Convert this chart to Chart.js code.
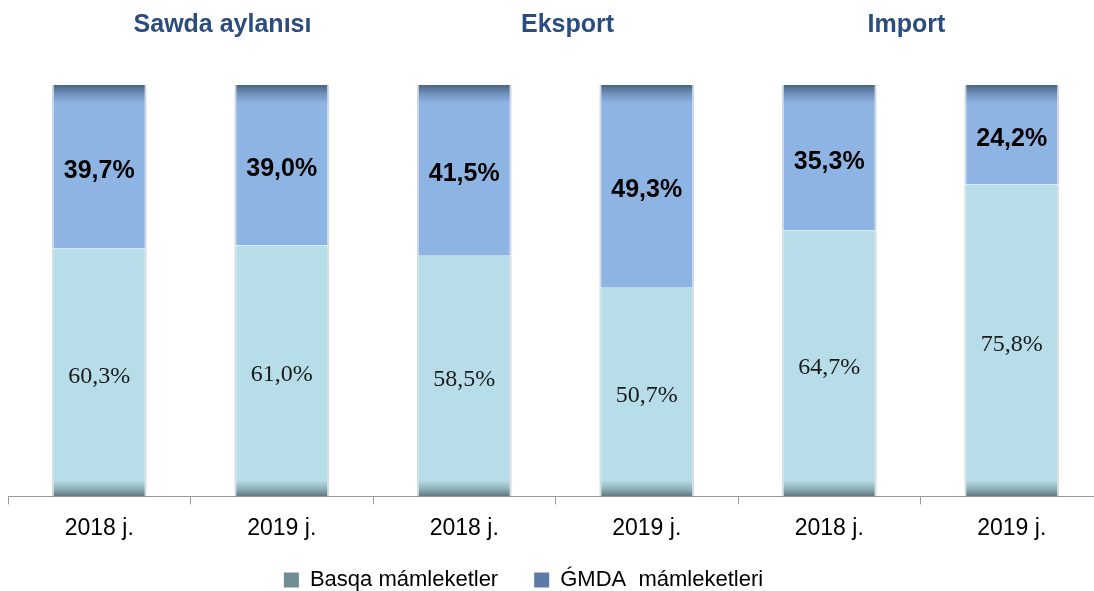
<!DOCTYPE html>
<html>
<head>
<meta charset="utf-8">
<script src="https://cdn.jsdelivr.net/npm/chart.js@4"></script>
<style>
  html, body { margin: 0; padding: 0; background: #fff; overflow: hidden; }
  #wrap { width: 1104px; height: 591px; }
</style>
</head>
<body>
<div id="wrap"><canvas id="c" width="1104" height="591"></canvas></div>
<script>
const categories = ['2018 j.', '2019 j.', '2018 j.', '2019 j.', '2018 j.', '2019 j.'];
const groupTitles = ['Sawda aylanısı', 'Eksport', 'Import'];
const seriesNames = ['Basqa mámleketler', 'ǴMDA  mámleketleri'];
const basqaValues = [60.3, 61.0, 58.5, 50.7, 64.7, 75.8];
const gmdaValues = [39.7, 39.0, 41.5, 49.3, 35.3, 24.2];

function fmt(v) { return v.toFixed(1).replace('.', ',') + '%'; }

function basqaFill(ctx) {
  const ca = ctx.chart.chartArea;
  if (!ca) return '#b7dde8';
  const g = ctx.chart.ctx.createLinearGradient(0, ca.bottom - 16, 0, ca.bottom);
  g.addColorStop(0, '#b7dde8');
  g.addColorStop(0.5, '#93b3bb');
  g.addColorStop(1, '#5b777e');
  return g;
}
function gmdaFill(ctx) {
  const ca = ctx.chart.chartArea;
  if (!ca) return '#8eb4e3';
  const g = ctx.chart.ctx.createLinearGradient(0, ca.top, 0, ca.top + 18);
  g.addColorStop(0, '#4b6282');
  g.addColorStop(0.45, '#6e8fba');
  g.addColorStop(1, '#8eb4e3');
  return g;
}

const labelsPlugin = {
  id: 'segLabels',
  afterDatasetsDraw(chart) {
    const c = chart.ctx;
    c.save();
    c.textAlign = 'center';
    c.textBaseline = 'middle';
    chart.data.datasets.forEach((ds, di) => {
      const meta = chart.getDatasetMeta(di);
      meta.data.forEach((el, i) => {
        const p = el.getProps(['x', 'y', 'base'], true);
        const yc = (p.y + p.base) / 2;
        if (di === 0) {
          c.font = '24px "Liberation Serif", "Times New Roman", serif';
          c.fillStyle = '#1a1a1a';
        } else {
          c.font = 'bold 25px "Liberation Sans", Arial, sans-serif';
          c.fillStyle = '#000';
        }
        c.fillText(fmt(ds.data[i]), p.x, yc + 4);
      });
    });
    c.restore();
  }
};

const titlesPlugin = {
  id: 'groupTitles',
  afterDraw(chart) {
    const c = chart.ctx;
    const xs = chart.scales.x;
    c.save();
    c.font = 'bold 25px "Liberation Sans", Arial, sans-serif';
    c.fillStyle = '#2a4c7f';
    c.textAlign = 'center';
    c.textBaseline = 'middle';
    const shift = [32, 12, -14];
    groupTitles.forEach((t, gi) => {
      const x = (xs.getPixelForValue(gi * 2) + xs.getPixelForValue(gi * 2 + 1)) / 2;
      c.fillText(t, x + shift[gi], 25);
    });
    c.restore();
  }
};

const layoutTweak = {
  id: 'layoutTweak',
  afterLayout(chart) {
    const lg = chart.legend;
    if (lg) { lg.left -= 32; lg.right -= 32; }
    const xs = chart.scales.x;
    if (xs) { xs.bottom += 24; }
  }
};

new Chart(document.getElementById('c'), {
  type: 'bar',
  data: {
    labels: categories,
    datasets: [
      { label: seriesNames[0], data: basqaValues, backgroundColor: basqaFill,
        borderWidth: {left: 2, right: 2, top: 0, bottom: 0}, borderColor: 'rgba(90,120,130,0.25)', borderSkipped: false },
      { label: seriesNames[1], data: gmdaValues, backgroundColor: gmdaFill,
        borderWidth: {left: 2, right: 2, top: 0, bottom: 0}, borderColor: 'rgba(70,100,150,0.25)', borderSkipped: false }
    ]
  },
  options: {
    responsive: false,
    animation: false,
    devicePixelRatio: 1,
    layout: { padding: { top: 85, left: 8, right: 1, bottom: -10 } },
    datasets: { bar: { categoryPercentage: 1, barPercentage: 0.52 } },
    scales: {
      x: {
        stacked: true,
        afterFit(scale) { scale.height -= 19; },
        grid: { display: true, offset: true, drawOnChartArea: false, drawTicks: true, tickLength: 8, color: '#9a9a9a', lineWidth: 1 },
        border: { display: true, color: '#9a9a9a', width: 1 },
        ticks: { color: '#000', font: { family: '"Liberation Sans", Arial, sans-serif', size: 23 }, padding: 10 }
      },
      y: { stacked: true, display: false, min: 0, max: 100 }
    },
    plugins: {
      tooltip: { enabled: false },
      legend: {
        position: 'bottom',
        labels: {
          boxWidth: 15, boxHeight: 15, padding: 36,
          color: '#000',
          font: { family: '"Liberation Sans", Arial, sans-serif', size: 22 },
          generateLabels(chart) {
            const cols = ['#6f8d93', '#5e7aa6'];
            return chart.data.datasets.map((ds, i) => ({
              text: ds.label, fillStyle: cols[i], strokeStyle: cols[i], lineWidth: 0,
              hidden: false, datasetIndex: i, fontColor: '#000'
            }));
          }
        }
      }
    }
  },
  plugins: [labelsPlugin, titlesPlugin, layoutTweak]
});
</script>
</body>
</html>
